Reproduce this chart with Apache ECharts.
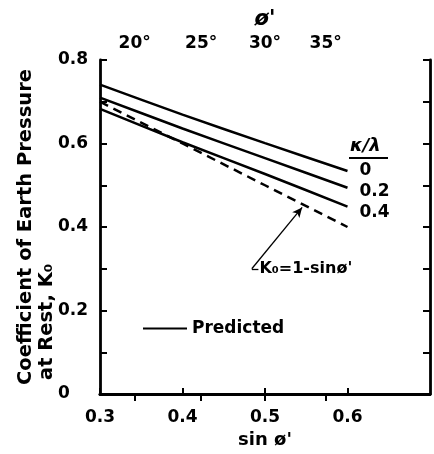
<!DOCTYPE html>
<html>
<head>
<meta charset="utf-8">
<script src="https://cdn.jsdelivr.net/npm/echarts@6/dist/echarts.min.js"></script>
<style>
html,body{margin:0;padding:0;background:#fff;}
#chart{width:434px;height:454px;}
</style>
</head>
<body>
<div id="chart"></div>
<script>
// ---- data ----
var sinPhi = [0.3, 0.4, 0.5, 0.6];
var kRatioLabels = ['0', '0.2', '0.4'];
var predicted0 = [0.741, 0.669, 0.601, 0.534];
var predicted02 = [0.710, 0.636, 0.565, 0.494];
var predicted04 = [0.683, 0.603, 0.527, 0.449];
var jaky = [0.70, 0.60, 0.50, 0.40];
var bottomTicks = [0.3, 0.4, 0.5, 0.6];
var leftLabels = [0, 0.2, 0.4, 0.6, 0.8];
var topDegrees = [20, 25, 30, 35];

var topTickValues = topDegrees.map(function (d) { return Math.sin(d * Math.PI / 180); });
function degLabel(v) {
  var best = topDegrees[0], bd = 1e9;
  topDegrees.forEach(function (d, i) {
    var dd = Math.abs(topTickValues[i] - v);
    if (dd < bd) { bd = dd; best = d; }
  });
  return best + '°';
}
function pairs(ys) { return sinPhi.map(function (x, i) { return [x, ys[i]]; }); }

var FONT = 'DejaVu Sans';
var black = '#000';

var chart = echarts.init(document.getElementById('chart'), null, { renderer: 'canvas' });

function solidSeries(name, ys, label, dy) {
  return {
    name: name,
    type: 'line',
    data: pairs(ys),
    smooth: 0.2,
    showSymbol: false,
    symbol: 'none',
    lineStyle: { color: black, width: 2.5 },
    itemStyle: { color: black },
    endLabel: {
      show: true,
      formatter: function () { return label; },
      color: black, fontFamily: FONT, fontWeight: 'bold', fontSize: 17,
      distance: 12,
      offset: [0, dy]
    }
  };
}

var option = {
  animation: false,
  backgroundColor: '#fff',
  grid: { left: 100, top: 60, width: 330, height: 337 },
  legend: {
    data: [{ name: 'Predicted', icon: 'rect' }],
    left: 138, top: 315,
    itemWidth: 44, itemHeight: 2, itemGap: 5,
    selectedMode: false,
    textStyle: { color: black, fontFamily: FONT, fontWeight: 'bold', fontSize: 17 }
  },
  xAxis: [
    {
      type: 'value', position: 'bottom', min: 0.3, max: 0.7, interval: 0.1,
      axisLine: { show: true, lineStyle: { color: black, width: 2.8 } },
      axisTick: { show: true, inside: true, length: 6, lineStyle: { color: black, width: 2 }, customValues: bottomTicks },
      axisLabel: { customValues: bottomTicks, formatter: function (v) { return v.toFixed(1); }, margin: 15, color: black, fontFamily: FONT, fontWeight: 'bold', fontSize: 17 },
      splitLine: { show: false },
      name: "sin ø'", nameLocation: 'middle', nameGap: 37,
      nameTextStyle: { color: black, fontFamily: FONT, fontWeight: 'bold', fontSize: 18 }
    },
    {
      type: 'value', position: 'top', min: 0.3, max: 0.7, interval: 0.1,
      axisLine: { show: true, lineStyle: { color: black, width: 2.8 } },
      axisTick: { show: true, inside: true, length: 7, lineStyle: { color: black, width: 2 }, customValues: topTickValues },
      axisLabel: { customValues: topTickValues, formatter: degLabel, margin: 8, color: black, fontFamily: FONT, fontWeight: 'bold', fontSize: 17 },
      splitLine: { show: false },
      name: "ø'", nameLocation: 'middle', nameGap: 30,
      nameTextStyle: { color: black, fontFamily: FONT, fontWeight: 'bold', fontStyle: 'italic', fontSize: 21 }
    }
  ],
  yAxis: [
    {
      type: 'value', position: 'left', min: 0, max: 0.8, interval: 0.1,
      axisLine: { show: true, lineStyle: { color: black, width: 2.8 } },
      axisTick: { show: true, inside: true, length: 7, lineStyle: { color: black, width: 2 } },
      axisLabel: { customValues: leftLabels, align: 'left', margin: 42, formatter: function (v) { return v === 0 ? '0' : v.toFixed(1); }, color: black, fontFamily: FONT, fontWeight: 'bold', fontSize: 17 },
      splitLine: { show: false }
    },
    {
      type: 'value', position: 'right', min: 0, max: 0.8, interval: 0.1,
      axisLine: { show: true, lineStyle: { color: black, width: 2.8 } },
      axisTick: { show: true, inside: true, length: 7, lineStyle: { color: black, width: 2 } },
      axisLabel: { show: false },
      splitLine: { show: false }
    }
  ],
  series: [
    solidSeries('Predicted', predicted0, kRatioLabels[0], 0),
    solidSeries('Predicted 0.2', predicted02, kRatioLabels[1], 4),
    solidSeries('Predicted 0.4', predicted04, kRatioLabels[2], 6),
    {
      name: 'Jaky',
      type: 'line',
      data: pairs(jaky),
      showSymbol: false,
      symbol: 'none',
      lineStyle: { color: black, width: 2.5, type: [9, 6] },
      markLine: {
        silent: true,
        symbol: ['none', 'none'],
        lineStyle: { color: black, width: 1.3, type: 'solid' },
        label: { show: false },
        data: [
          [{ coord: [0.484, 0.30], symbol: 'none' }, { coord: [0.545, 0.447], symbol: 'arrow', symbolSize: [7, 10] }],
          [{ coord: [0.484, 0.30], symbol: 'none' }, { coord: [0.492, 0.30], symbol: 'none' }]
        ]
      },
      markPoint: {
        silent: true,
        symbol: 'circle', symbolSize: 0,
        data: [{ coord: [0.492, 0.30], value: 0 }],
        label: {
          show: true, position: 'right', distance: 1,
          formatter: "K₀=1-sinø'",
          color: black, fontFamily: FONT, fontWeight: 'bold', fontSize: 16
        }
      }
    }
  ],
  graphic: [
    { type: 'text', left: 350, top: 137, style: { text: 'κ/λ', fill: black, font: 'bold italic 18px "DejaVu Sans"' } },
    { type: 'line', shape: { x1: 349, y1: 158, x2: 388, y2: 158 }, style: { stroke: black, lineWidth: 2 } },
    { type: 'text', x: 26, y: 385, rotation: Math.PI / 2, style: { text: 'Coefficient of Earth Pressure', fill: black, font: 'bold 19.5px "DejaVu Sans"', textAlign: 'left', textVerticalAlign: 'middle' } },
    { type: 'text', x: 47, y: 380, rotation: Math.PI / 2, style: { text: 'at Rest, K₀', fill: black, font: 'bold 19.5px "DejaVu Sans"', textAlign: 'left', textVerticalAlign: 'middle' } }
  ]
};
chart.setOption(option);
</script>
</body>
</html>
